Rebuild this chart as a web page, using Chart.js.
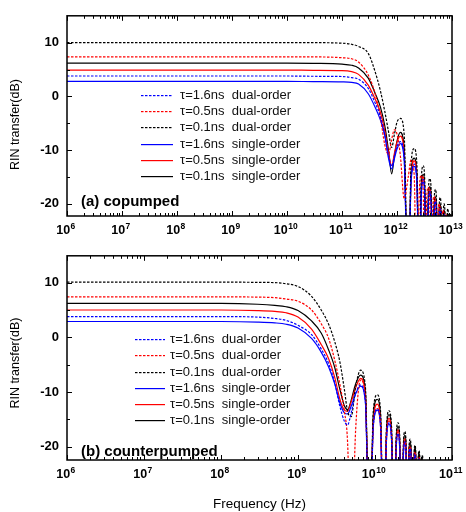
<!DOCTYPE html>
<html><head><meta charset="utf-8">
<script src="https://cdn.jsdelivr.net/npm/chart.js@4.4.0/dist/chart.umd.min.js"></script>
<style>
html,body{margin:0;padding:0;background:#fff;}
#wrap{position:relative;width:466px;height:512px;overflow:hidden;}
#ca{position:absolute;left:0;top:0;}
#cb{position:absolute;left:0;top:240px;}
</style></head><body>
<div id="wrap"><canvas id="ca" width="466" height="240"></canvas><canvas id="cb" width="466" height="272"></canvas></div>
<script>
// ---------- data ----------
const seriesLabels = ['τ=1.6ns  dual-order','τ=0.5ns  dual-order','τ=0.1ns  dual-order',
                      'τ=1.6ns  single-order','τ=0.5ns  single-order','τ=0.1ns  single-order'];
const xTicksA = [1e6,1e7,1e8,1e9,1e10,1e11,1e12,1e13];
const xTicksB = [1e6,1e7,1e8,1e9,1e10,1e11];
const yTicks = [-20,-10,0,10];
const yMinorTicks = [-15,-5,5];

// (a) copumped
const freqA = [1e6,1e9,1e10,3e10,1e11,1.5e11,2e11,3e11,4e11,5e11,6e11,7e11,8e11,9e11,1.0e12,
  1.15e12,1.35e12,1.6e12,1.8e12,2.05e12,2.3e12,2.55e12,2.75e12,3.0e12,3.2e12,3.45e12,3.7e12,3.95e12,
  4.2e12,4.45e12,4.7e12,5.0e12,5.25e12,5.5e12,5.8e12,6.1e12,6.35e12,6.6e12,6.9e12,7.2e12,7.5e12,
  7.8e12,8.1e12,8.4e12,8.65e12,8.9e12,9.2e12,9.5e12,9.75e12,1e13];
const aBlueDual = [3.8,3.8,3.8,3.75,3.7,3.5,3.2,1.5,-1.2,-3.8,-7.2,-11.0,-13.0,-11.0,-9.3,
  -8.4,-11.4,-40,-15.6,-12.6,-15.6,-40,-18.5,-15.5,-18.5,-40,-20.7,-17.7,-20.7,-40,-22.5,-19.5,-22.5,-40,
  -23.9,-20.9,-23.9,-40,-25.0,-22.0,-25.0,-40,-25.8,-22.8,-25.8,-40,-26.4,-23.4,-26.4,-40];
const aRedDual = [7.35,7.35,7.35,7.35,7.2,7.0,6.4,4.0,0.5,-4.0,-9.0,-10.8,-8.0,-6.2,-7.0,
  -11.0,-19.0,-15.0,-11.8,-14.5,-40,-17.5,-14.7,-17.7,-40,-19.8,-16.9,-19.9,-40,-21.6,-18.6,-21.6,-40,
  -23.0,-20.0,-23.0,-40,-24.2,-21.2,-24.2,-40,-25.0,-22.0,-25.0,-40,-25.8,-22.8,-25.8,-40,-26.0];
const aBlackDual = [10.0,10.0,10.0,10.0,9.9,9.7,9.3,8.0,4.6,1.0,-2.8,-6.5,-9.5,-7.0,-4.8,
  -4.1,-7.1,-40,-12.7,-9.7,-12.7,-40,-15.9,-12.9,-15.9,-40,-18.3,-15.3,-18.3,-40,-20.3,-17.3,-20.3,-40,
  -21.8,-18.8,-21.8,-40,-23.0,-20.0,-23.0,-40,-23.9,-20.9,-23.9,-40,-24.8,-21.8,-24.8,-40];
const aBlueSingle = [2.8,2.8,2.8,2.75,2.7,2.6,2.3,0.5,-2.0,-4.4,-7.3,-11.5,-13.5,-11.5,-9.8,
  -8.8,-11.8,-40,-16.0,-13.0,-16.0,-40,-18.9,-15.9,-18.9,-40,-21.0,-18.0,-21.0,-40,-22.8,-19.8,-22.8,-40,
  -24.1,-21.1,-24.1,-40,-25.1,-22.1,-25.1,-40,-25.9,-22.9,-25.9,-40,-26.5,-23.5,-26.5,-40];
const aRedSingle = [4.9,4.9,4.9,4.85,4.8,4.6,4.1,2.1,-0.5,-3.0,-6.5,-10.5,-12.9,-10.5,-8.5,
  -7.4,-10.4,-40,-15.0,-12.0,-15.0,-40,-18.0,-15.0,-18.0,-40,-20.3,-17.3,-20.3,-40,-22.1,-19.1,-22.1,-40,
  -23.5,-20.5,-23.5,-40,-24.6,-21.6,-24.6,-40,-25.4,-22.4,-25.4,-40,-26.0,-23.0,-26.0,-40];
const aBlackSingle = [6.2,6.2,6.2,6.15,6.0,5.8,5.3,3.4,0.6,-2.0,-5.5,-10.0,-14.4,-11.0,-8.3,
  -6.7,-9.7,-40,-14.5,-11.5,-14.5,-40,-17.5,-14.5,-17.5,-40,-19.8,-16.8,-19.8,-40,-21.7,-18.7,-21.7,-40,
  -23.1,-20.1,-23.1,-40,-24.2,-21.2,-24.2,-40,-25.0,-22.0,-25.0,-40,-25.8,-22.8,-25.8,-40];

// (b) counterpumped
const freqB = [1e6,1e8,3e8,5e8,7e8,1e9,1.5e9,2e9,2.5e9,3e9,3.5e9,4.0e9,4.4e9,4.9e9,5.6e9,
  6.5e9,7.5e9,8.5e9,9.5e9,1.07e10,1.18e10,1.3e10,1.41e10,1.52e10,1.64e10,1.77e10,1.88e10,1.99e10,
  2.1e10,2.22e10,2.33e10,2.44e10,2.54e10,2.65e10,2.75e10,2.85e10,2.96e10,3.08e10,3.2e10,3.31e10,
  3.4e10,3.5e10,3.62e10,3.73e10,3.84e10,3.95e10,4.05e10,4.15e10,4.3e10,1e11];
const bBlueDual = [3.8,3.8,3.7,3.45,3.1,2.2,0.5,-2.1,-4.8,-8.3,-12.6,-15.3,-16.0,-13.8,-10.3,
  -8.7,-11.7,-40,-16.1,-13.1,-16.1,-40,-18.6,-15.6,-18.6,-40,-20.6,-17.6,-20.6,-40,-22.1,-19.1,-22.1,-40,
  -23.3,-20.3,-23.3,-40,-24.3,-21.3,-24.3,-40,-25.1,-22.1,-25.1,-40,-25.8,-22.8,-40,-40];
const bRedDual = [7.4,7.4,7.35,7.25,7.0,6.6,5.0,2.5,-0.2,-4.2,-8.6,-13.5,-19.0,-40,-17.0,
  -7.8,-10.8,-40,-16.0,-13.0,-16.0,-40,-18.3,-15.3,-18.3,-40,-20.3,-17.3,-20.3,-40,-21.9,-18.9,-21.9,-40,
  -23.1,-20.1,-23.1,-40,-24.1,-21.1,-24.1,-40,-25.0,-22.0,-25.0,-40,-25.7,-22.7,-40,-40];
const bBlackDual = [10.1,10.1,10.05,10.0,9.8,9.3,7.5,5.0,2.4,-0.8,-4.5,-9.5,-13.5,-14.5,-9.0,
  -6.0,-9.0,-40,-13.5,-10.5,-13.5,-40,-16.4,-13.4,-16.4,-40,-18.6,-15.6,-18.6,-40,-20.2,-17.2,-20.2,-40,
  -21.6,-18.6,-21.6,-40,-22.7,-19.7,-22.7,-40,-23.7,-20.7,-23.7,-40,-24.5,-21.5,-40,-40];
const bBlueSingle = [2.9,2.9,2.8,2.65,2.4,1.7,-0.2,-2.7,-5.4,-8.5,-12.0,-13.8,-14.0,-12.6,-10.3,
  -8.9,-11.9,-40,-16.3,-13.3,-16.3,-40,-18.8,-15.8,-18.8,-40,-20.8,-17.8,-20.8,-40,-22.3,-19.3,-22.3,-40,
  -23.5,-20.5,-23.5,-40,-24.5,-21.5,-24.5,-40,-25.3,-22.3,-25.3,-40,-26.0,-23.0,-40,-40];
const bRedSingle = [5.0,5.0,4.9,4.75,4.5,3.7,1.5,-1.3,-3.9,-7.3,-11.3,-13.3,-13.5,-11.8,-9.2,
  -7.5,-10.5,-40,-15.2,-12.2,-15.2,-40,-17.8,-14.8,-17.8,-40,-19.9,-16.9,-19.9,-40,-21.5,-18.5,-21.5,-40,
  -22.8,-19.8,-22.8,-40,-23.8,-20.8,-23.8,-40,-24.7,-21.7,-24.7,-40,-25.4,-22.4,-40,-40];
const bBlackSingle = [6.2,6.2,6.05,5.85,5.6,4.9,3.0,0.8,-2.3,-5.5,-9.5,-12.5,-13.2,-11.5,-8.5,
  -6.9,-9.9,-40,-14.3,-11.3,-14.3,-40,-17.1,-14.1,-17.1,-40,-19.3,-16.3,-19.3,-40,-20.9,-17.9,-20.9,-40,
  -22.2,-19.2,-22.2,-40,-23.2,-20.2,-23.2,-40,-24.2,-21.2,-24.2,-40,-25.0,-22.0,-40,-40];

// ---------- styling ----------
const FONT = '"Liberation Sans", Arial, sans-serif';
const styles = [
  {c:'#0000ff', dash:[2.5,1.5]}, {c:'#ff0000', dash:[2.5,1.5]}, {c:'#000000', dash:[2.5,1.5]},
  {c:'#0000ff', dash:[]},        {c:'#ff0000', dash:[]},        {c:'#000000', dash:[]}
];

const decor = {
  id: 'decor',
  afterDatasetsDraw(chart, args, o) {
    const {ctx, chartArea: a} = chart;
    const xs = chart.scales.x, ys = chart.scales.y;
    ctx.save();
    ctx.strokeStyle = '#000';
    ctx.lineWidth = 1;
    ctx.setLineDash([]);
    ctx.beginPath();
    o.xMajor.forEach(v => {
      for (let m = 1; m <= 9; m++) {
        const val = v * m;
        if (val > xs.max * 1.001) break;
        const px = Math.round(xs.getPixelForValue(val)) + 0.5;
        const len = m === 1 ? 5 : 3;
        ctx.moveTo(px, a.bottom); ctx.lineTo(px, a.bottom - len);
        ctx.moveTo(px, a.top); ctx.lineTo(px, a.top + len);
      }
    });
    yTicks.concat(yMinorTicks).forEach(v => {
      const py = Math.round(ys.getPixelForValue(v)) + 0.5;
      const len = yTicks.includes(v) ? 5 : 3;
      ctx.moveTo(a.left, py); ctx.lineTo(a.left + len, py);
      ctx.moveTo(a.right, py); ctx.lineTo(a.right - len, py);
    });
    ctx.stroke();
    ctx.lineWidth = 1.5;
    ctx.strokeRect(a.left, a.top, a.right - a.left, a.bottom - a.top);

    // x tick labels: 10 with superscript exponent
    ctx.fillStyle = '#000';
    ctx.textBaseline = 'middle';
    ctx.textAlign = 'left';
    o.xMajor.forEach(v => {
      const e = String(Math.round(Math.log10(v)));
      const px = xs.getPixelForValue(v);
      ctx.font = 'bold 12.5px ' + FONT;
      const w1 = ctx.measureText('10').width;
      ctx.font = 'bold 8.5px ' + FONT;
      const w2 = ctx.measureText(e).width;
      const x0 = px - (w1 + w2) / 2 - 1.5;
      ctx.font = 'bold 12.5px ' + FONT;
      ctx.fillText('10', x0, a.bottom + 14.5);
      ctx.font = 'bold 8.5px ' + FONT;
      ctx.fillText(e, x0 + w1 + 0.5, a.bottom + 10.5);
    });

    // legend (samples drawn as filled segments so colours stay crisp)
    ctx.font = '13px ' + FONT;
    chart.data.datasets.forEach((ds, i) => {
      const y = Math.round(o.legY + i * o.legDy);
      ctx.fillStyle = styles[i].c;
      if (styles[i].dash.length) {
        for (let s = 0; s < o.legLen; s += 4) {
          ctx.fillRect(o.legX + s, y, Math.min(2.5, o.legLen - s), 1.2);
        }
      } else {
        ctx.fillRect(o.legX, y, o.legLen, 1.2);
      }
      ctx.fillStyle = '#111';
      ctx.fillText(seriesLabels[i], o.legX + o.legLen + o.legGap, y + 0.5);
    });
    ctx.font = 'bold 15px ' + FONT;
    ctx.fillStyle = '#000';
    ctx.fillText(o.title, o.titleX, o.titleY);
    ctx.restore();
  }
};

function makeDatasets(freq, arrs) {
  return arrs.map((arr, i) => ({
    label: seriesLabels[i],
    data: freq.map((f, k) => ({x: f, y: arr[k]})),
    borderColor: styles[i].c,
    borderDash: styles[i].dash,
    borderWidth: 1.2,
    pointRadius: 0,
    fill: false,
    cubicInterpolationMode: 'monotone'
  }));
}

function makeChart(id, freq, arrs, xTicks, xmax, ymin, ymax, pad, xh, showXTitle, yTitle, dec) {
  return new Chart(document.getElementById(id), {
    type: 'line',
    data: { datasets: makeDatasets(freq, arrs) },
    options: {
      responsive: false,
      animation: false,
      events: [],
      layout: { padding: pad },
      plugins: { legend: {display: false}, tooltip: {enabled: false}, decor: dec },
      scales: {
        x: {
          type: 'logarithmic', min: 1e6, max: xmax,
          grid: {display: false, drawTicks: false},
          border: {display: false},
          afterBuildTicks: s => { s.ticks = xTicks.map(v => ({value: v})); },
          afterFit: s => { s.height = xh; },
          ticks: { display: false, autoSkip: false, maxRotation: 0 },
          title: {
            display: showXTitle, text: 'Frequency (Hz)', color: '#000',
            font: {family: FONT, size: 13.5}, padding: {top: 5, bottom: 0}
          }
        },
        y: {
          type: 'linear', min: ymin, max: ymax,
          grid: {display: false, drawTicks: false},
          border: {display: false},
          afterBuildTicks: s => { s.ticks = yTicks.map(v => ({value: v})); },
          afterFit: s => { s.width = 67; },
          ticks: {
            padding: 8, color: '#000', font: {family: FONT, size: 13, weight: 'bold'}
          },
          title: {
            display: true, text: yTitle, color: '#000',
            font: {family: FONT, size: 12.5}, padding: {top: 8, bottom: 0}
          }
        }
      }
    },
    plugins: [decor]
  });
}

makeChart('ca', freqA,
  [aBlueDual, aRedDual, aBlackDual, aBlueSingle, aRedSingle, aBlackSingle],
  xTicksA, 1e13, -22.25, 15.0, {top: 5, right: 14, left: 0, bottom: 0}, 24, false,
  'RIN transfer(dB)     ',
  {xMajor: xTicksA, legX: 141, legY: 95, legDy: 16.2, legLen: 32, legGap: 7,
   title: '(a) copumped', titleX: 81, titleY: 202});

makeChart('cb', freqB,
  [bBlueDual, bRedDual, bBlackDual, bBlueSingle, bRedSingle, bBlackSingle],
  xTicksB, 1e11, -22.4, 14.9, {top: 8, right: 14, left: 0, bottom: 0}, 52, true,
  'RIN transfer(dB)   ',
  {xMajor: xTicksB, legX: 135, legY: 99.3, legDy: 16.15, legLen: 30, legGap: 5,
   title: '(b) counterpumped', titleX: 81, titleY: 212});
</script>
</body></html>
